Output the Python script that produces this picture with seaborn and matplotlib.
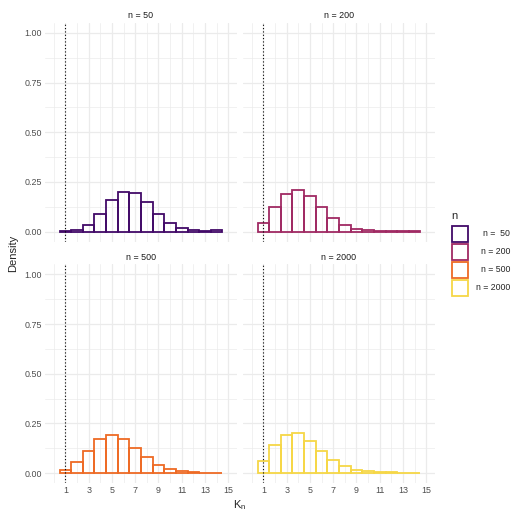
import numpy as np
import pandas as pd
import matplotlib
matplotlib.use("Agg")
import matplotlib.pyplot as plt
from matplotlib.patches import Rectangle
import seaborn as sns

# --- data ---
k_values = list(range(1, 15))
dens_50 = [0.002, 0.009, 0.034, 0.090, 0.160, 0.200, 0.194, 0.147, 0.087, 0.044, 0.018, 0.008, 0.003, 0.006]
dens_200 = [0.044, 0.122, 0.191, 0.208, 0.181, 0.122, 0.067, 0.034, 0.015, 0.007, 0.003, 0.002, 0.001, 0.0005]
dens_500 = [0.015, 0.054, 0.113, 0.170, 0.190, 0.170, 0.128, 0.079, 0.042, 0.020, 0.010, 0.005, 0.002, 0.002]
dens_2000 = [0.061, 0.140, 0.192, 0.200, 0.160, 0.111, 0.066, 0.035, 0.017, 0.008, 0.005, 0.003, 0.002, 0.001]

n_levels = ["n = 50", "n = 200", "n = 500", "n = 2000"]
legend_labels = ["n =  50", "n = 200", "n = 500", "n = 2000"]
x_ticks = [1, 3, 5, 7, 9, 11, 13, 15]
y_ticks = [0.0, 0.25, 0.5, 0.75, 1.0]
y_tick_labels = ["0.00", "0.25", "0.50", "0.75", "1.00"]

frames = []
for lab, dens in zip(n_levels, [dens_50, dens_200, dens_500, dens_2000]):
    frames.append(pd.DataFrame({"K": k_values, "density": dens, "n": lab}))
df = pd.concat(frames, ignore_index=True)

cmap = matplotlib.colormaps["inferno"]
palette = [cmap(v) for v in [0.2, 0.43, 0.67, 0.9]]

sns.set_theme(style="whitegrid")
plt.rcParams["font.family"] = ["Liberation Sans", "DejaVu Sans"]
plt.rcParams["mathtext.fontset"] = "custom"
plt.rcParams["mathtext.rm"] = "Liberation Sans"

g = sns.FacetGrid(df, col="n", hue="n", col_wrap=2, col_order=n_levels,
                  hue_order=n_levels, palette=palette, sharex=True, sharey=True,
                  height=2.2, aspect=0.9, despine=False)
g.map_dataframe(sns.histplot, x="K", weights="density", discrete=True,
                fill=False, linewidth=1.3)

fig = g.figure
fig.set_size_inches(5.13, 5.12)
W, H = 513, 512
fig.subplots_adjust(left=45/W, right=435/W, top=1-23/H, bottom=1-483/H,
                    wspace=6/192, hspace=23/219)

grid_col = "#EBEBEB"
for ax, lab in zip(g.axes.flat, n_levels):
    ax.axvline(1, color="black", linestyle=(0, (1, 2)), linewidth=0.8, zorder=5)
    ax.set_xlim(-0.75, 15.75)
    ax.set_ylim(-0.05, 1.05)
    ax.set_xticks(x_ticks)
    ax.set_xticks([0, 2, 4, 6, 8, 10, 12, 14], minor=True)
    ax.set_yticks(y_ticks)
    ax.set_yticks([0.125, 0.375, 0.625, 0.875], minor=True)
    ax.set_yticklabels(y_tick_labels)
    ax.grid(which="major", color=grid_col, linewidth=0.9)
    ax.grid(which="minor", color=grid_col, linewidth=0.5)
    ax.set_axisbelow(True)
    for s in ax.spines.values():
        s.set_visible(False)
    ax.tick_params(which="both", length=0, labelsize=6.4, colors="#4D4D4D", pad=2)
    ax.set_title(lab, fontsize=6.4, color="#1A1A1A", pad=3.5)
    ax.set_xlabel("")
    ax.set_ylabel("")

fig.text(240/W, 1-505/H, r"K$_\mathregular{n}$", ha="center", va="center", fontsize=8)
fig.text(13/W, 1-253/H, "Density", ha="center", va="center", rotation=90, fontsize=8)

# legend drawn by hand: square keys, right-aligned labels
fig.text(451/W, 1-216/H, "n", ha="left", va="center", fontsize=8)
key = 16
for i, (c, lab) in enumerate(zip(palette, legend_labels)):
    top = 226 + i * 18
    fig.add_artist(Rectangle((452/W, 1-(top+key)/H), key/W, key/H,
                             transform=fig.transFigure, facecolor="white",
                             edgecolor=c, linewidth=1.3))
    fig.text(510/W, 1-(top+key/2)/H, lab, ha="right", va="center", fontsize=6.3)

fig.savefig("out.png", dpi=100)
